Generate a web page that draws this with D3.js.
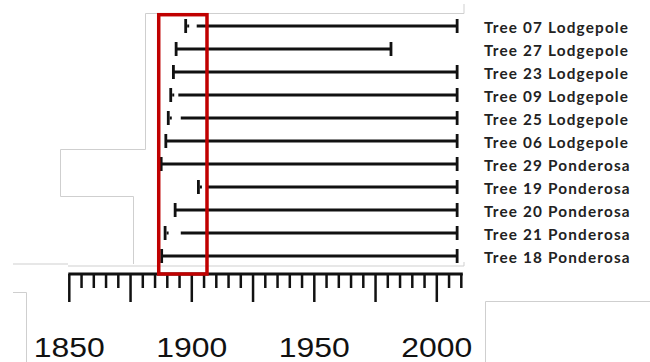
<!DOCTYPE html>
<html><head><meta charset="utf-8">
<script src="https://cdn.jsdelivr.net/npm/d3@7"></script>
<style>html,body{margin:0;padding:0;background:#fff;}svg{display:block;}</style>
</head><body><div id="chart"></div>
<script>
const trees = ["Tree 07 Lodgepole","Tree 27 Lodgepole","Tree 23 Lodgepole","Tree 09 Lodgepole","Tree 25 Lodgepole","Tree 06 Lodgepole","Tree 29 Ponderosa","Tree 19 Ponderosa","Tree 20 Ponderosa","Tree 21 Ponderosa","Tree 18 Ponderosa"];
const firstYears = [1897.5,1893.6,1892.5,1891.4,1890.4,1889.4,1887.5,1902.7,1893.2,1889.1,1887.7];
const solidStartYears = [1902,1893.6,1892.5,1894.5,1895.5,1889.4,1887.5,1906.4,1893.2,1895.5,1887.7];
const lastYears = [2008.3,1981.3,2008.3,2008.3,2008.3,2008.3,2008.3,2008.3,2008.3,2008.3,2008.3];
const tickLabels = [1850,1900,1950,2000];
const highlightYears = [1886.5,1906.2];

const W=650,H=362;
const svg=d3.select("#chart").append("svg").attr("width",W).attr("height",H);
const x=d3.scaleLinear().domain([1850,2010]).range([69.3,461.3]);
const y=d3.scalePoint().domain(trees).range([26,256]);
const axisY=274;

// faint gray screenshot borders
const g0="#cfcfcf";
const guide=[[145.5,13.5,464,13.5],[464,4,464,13.5],[145.5,13.5,145.5,149.5],[60.5,149.5,145.5,149.5],[60.5,149.5,60.5,196.5],[60.5,196.5,133.5,196.5],[133.5,196.5,133.5,264],[13,264,68,264],[68,266,464,266],[464,262,464,266],[13,292.5,26.5,292.5],[26.5,292.5,26.5,362],[485.5,301.5,650,301.5],[485.5,301.5,485.5,362]];
svg.append("g").selectAll("line").data(guide).join("line")
  .attr("x1",d=>d[0]).attr("y1",d=>d[1]).attr("x2",d=>d[2]).attr("y2",d=>d[3])
  .attr("stroke",g0).attr("stroke-width",1);

// axis
const ax=svg.append("g").attr("transform",`translate(0,${axisY})`);
ax.append("line").attr("x1",x(1850)-1).attr("x2",x(2010)+1.5).attr("stroke","#111").attr("stroke-width",3);
const ticks=d3.range(1850,2011,5);
ax.selectAll("line.t").data(ticks).join("line").attr("class","t")
  .attr("x1",d=>x(d)).attr("x2",d=>x(d)).attr("y1",0)
  .attr("y2",d=>d%25===0?28:14).attr("stroke","#111").attr("stroke-width",2.5);
svg.append("g").selectAll("text").data(tickLabels).join("text")
  .attr("x",d=>x(d)).attr("y",356.5).attr("text-anchor","middle")
  .attr("font-family","Liberation Sans, Arial, sans-serif").attr("font-size",28)
  .attr("textLength",71).attr("lengthAdjust","spacingAndGlyphs")
  .attr("fill","#111").text(d=>d);

// bars
const rows=trees.map((t,i)=>({t,f:firstYears[i],s:solidStartYears[i],e:lastYears[i]}));
const bars=svg.append("g");
bars.selectAll("line.bar").data(rows).join("line").attr("class","bar")
  .attr("x1",d=>x(d.s)).attr("x2",d=>x(d.e)).attr("y1",d=>y(d.t)).attr("y2",d=>y(d.t))
  .attr("stroke","#111").attr("stroke-width",3);
bars.selectAll("line.st").data(rows).join("line").attr("class","st")
  .attr("x1",d=>x(d.f)).attr("x2",d=>x(d.f)).attr("y1",d=>y(d.t)-7).attr("y2",d=>y(d.t)+7)
  .attr("stroke","#111").attr("stroke-width",2.8);
bars.selectAll("line.en").data(rows).join("line").attr("class","en")
  .attr("x1",d=>x(d.e)).attr("x2",d=>x(d.e)).attr("y1",d=>y(d.t)-7).attr("y2",d=>y(d.t)+7)
  .attr("stroke","#111").attr("stroke-width",2.8);
bars.selectAll("rect.dot").data(rows.filter(d=>d.s-d.f>1)).join("rect").attr("class","dot")
  .attr("x",d=>x(d.f)+1.5).attr("y",d=>y(d.t)-1.5).attr("width",2).attr("height",3).attr("fill","#111");

// labels
const labels=svg.append("g").selectAll("text").data(trees).join("text")
  .attr("x",484).attr("y",d=>y(d)+7)
  .attr("font-family","Lato, sans-serif").attr("font-weight","bold").attr("font-size",15.3)
  .attr("letter-spacing","0px")
  .attr("fill","#222").text(d=>d);
// widen to match the reference's label width (Tree 07 Lodgepole ≈ 144px)
const w0=labels.node().getComputedTextLength();
const ls=(144-w0)/16;
labels.attr("letter-spacing",ls+"px");

// highlight box
svg.append("rect").attr("x",x(highlightYears[0])).attr("y",14.7)
  .attr("width",x(highlightYears[1])-x(highlightYears[0])).attr("height",axisY-14.7)
  .attr("fill","none").attr("stroke","#c00000").attr("stroke-width",3.5);
</script></body></html>
